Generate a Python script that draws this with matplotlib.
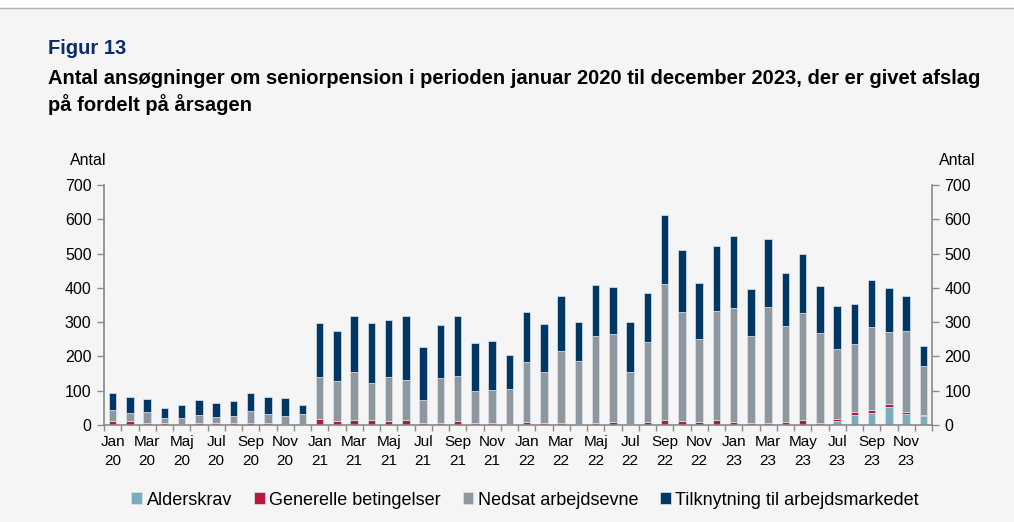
import numpy as np
import matplotlib.pyplot as plt
from matplotlib.patches import Rectangle
from matplotlib.lines import Line2D

plt.rcParams['font.family'] = ['Liberation Sans', 'DejaVu Sans']

# Monthly rejections Jan 2020 - Dec 2023, split by reason
months = ["Jan", "Feb", "Mar", "Apr", "Maj", "Jun", "Jul", "Aug", "Sep", "Okt", "Nov", "Dec"]
years = ["20", "21", "22", "23"]

alderskrav = [0] * 42 + [13, 30, 36, 53, 33, 27]
generelle = [13, 13, 6, 6, 3, 6, 5, 6, 6, 7, 4, 4,
             18, 13, 15, 16, 13, 15, 6, 6, 13, 7, 6, 4,
             9, 5, 6, 3, 5, 9, 2, 9, 16, 13, 9, 16,
             9, 6, 6, 10, 15, 6, 5, 8, 9, 8, 6, 2]
nedsat = [32, 21, 32, 14, 17, 23, 17, 20, 36, 26, 23, 27,
          123, 116, 141, 106, 126, 116, 67, 130, 129, 92, 96, 100,
          176, 150, 210, 185, 254, 256, 154, 233, 396, 316, 241, 317,
          332, 255, 338, 278, 311, 261, 203, 199, 240, 210, 236, 142]
tilknytning = [48, 48, 39, 30, 38, 43, 41, 44, 50, 50, 53, 27,
               157, 146, 162, 175, 167, 188, 155, 156, 177, 139, 144, 101,
               146, 140, 159, 113, 149, 137, 144, 144, 200, 181, 164, 190,
               210, 136, 198, 155, 172, 137, 125, 117, 138, 130, 102, 58]

series = [("Alderskrav", alderskrav, "#78aebb"),
          ("Generelle betingelser", generelle, "#c0143c"),
          ("Nedsat arbejdsevne", nedsat, "#8c979f"),
          ("Tilknytning til arbejdsmarkedet", tilknytning, "#003764")]

bg = "#f5f5f5"
fig = plt.figure(figsize=(10.14, 5.22), dpi=100, facecolor=bg)
fig.patches.append(Rectangle((0, 0.984), 1, 0.016, transform=fig.transFigure,
                             facecolor="white", edgecolor="none", zorder=-1))
fig.lines.append(Line2D([0, 1], [0.984, 0.984], transform=fig.transFigure,
                        color="#b0b0b0", linewidth=1))

ax = fig.add_axes([0.1026, 0.1858, 0.8166, 0.4598])
ax.set_facecolor(bg)

x = np.arange(len(nedsat))
bottom = np.zeros(len(x))
for name, vals, col in series:
    vals = np.array(vals, dtype=float)
    ax.bar(x, vals, bottom=bottom, width=0.44, color=col, edgecolor="#dde3e8",
           linewidth=0.5, label=name)
    bottom += vals

ax.set_xlim(-0.5, len(x) - 0.5)
ax.set_ylim(0, 700)
ax.set_yticks(range(0, 701, 100))

# x labels every second month, "May" used in 2023
labels = []
for yi, yr in enumerate(years):
    for m in range(0, 12, 2):
        name = months[m]
        if yr == "23" and name == "Maj":
            name = "May"
        labels.append(name + "\n" + yr)
ax.set_xticks(x[::2])
ax.set_xticklabels(labels, fontsize=11, linespacing=1.5)
ax.set_xticks(np.arange(-0.5, len(x), 1), minor=True)
ax.tick_params(axis="x", which="major", length=0, pad=7)
ax.tick_params(axis="x", which="minor", length=4, width=1, color="#8a8a8a")

ax.spines["top"].set_visible(False)
for s in ["left", "right", "bottom"]:
    ax.spines[s].set_color("#8a8a8a")
    ax.spines[s].set_linewidth(1.2)

ax.tick_params(axis="y", which="major", length=5, width=1, color="#8a8a8a",
               labelsize=11.5, left=True, right=True, labelright=True, pad=4)

fig.text(0.087, 0.693, "Antal", ha="center", va="center", fontsize=11.5)
fig.text(0.944, 0.693, "Antal", ha="center", va="center", fontsize=11.5)

fig.text(0.047, 0.908, "Figur 13", fontsize=14.5, fontweight="bold", color="#0b2b6a",
         va="center")
fig.text(0.047, 0.85, "Antal ansøgninger om seniorpension i perioden januar 2020 til december 2023, der er givet afslag",
         fontsize=14.5, fontweight="bold", va="center")
fig.text(0.047, 0.8, "på fordelt på årsagen", fontsize=14.5, fontweight="bold", va="center")

fig.legend(loc="center", bbox_to_anchor=(0.518, 0.042), ncol=4, frameon=False,
           fontsize=13, handlelength=0.6, handleheight=0.6, handletextpad=0.25,
           columnspacing=1.2)

fig.savefig("out.png", dpi=100, facecolor=bg)
